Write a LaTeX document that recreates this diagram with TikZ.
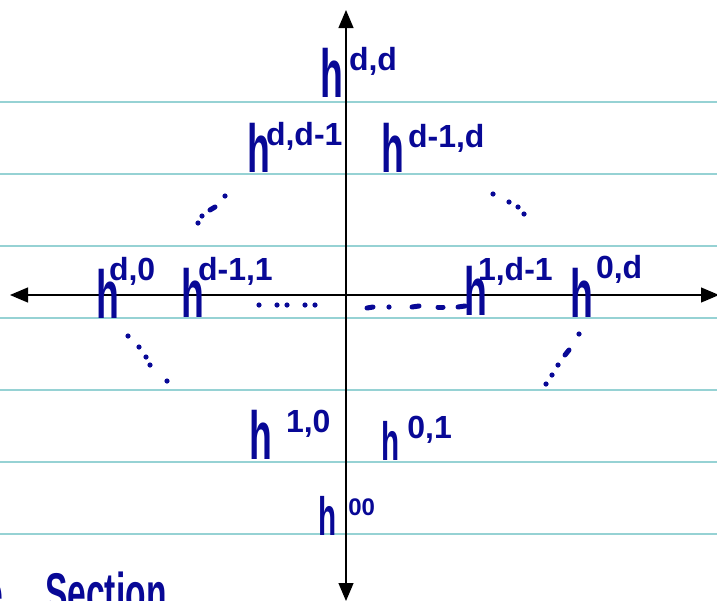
\documentclass[tikz,border=0pt]{standalone}
\usepackage{fontspec}
\setmainfont{Liberation Sans}
\usepackage{tikz}
\usetikzlibrary{arrows.meta}
\definecolor{penblue}{RGB}{8,8,150}
\definecolor{ruleteal}{RGB}{150,210,212}
\tikzset{
  ruling/.style ={line width=1.4pt, ruleteal},
  axis/.style   ={line width=1.2pt, black, {Triangle[length=18pt,width=15pt]}-{Triangle[length=18pt,width=15pt]}},
  hodge/.style  ={anchor=base west, inner sep=0pt, text=penblue, font=\fontsize{68}{68}\selectfont\bfseries},
  hodgesm/.style={hodge, font=\fontsize{54}{54}\selectfont\bfseries},
  scrawl/.style ={anchor=base west, inner sep=0pt, text=penblue, font=\fontsize{56}{56}\selectfont\bfseries},
  inkdot/.style ={fill=penblue},
  inkdash/.style={draw=penblue, line width=5pt, line cap=round},
}
% h with a raised pair of indices: gap, lift, indices
\newcommand{\hterm}[3]{\scalebox{0.55}[1]{h}\hspace*{#1pt}\raisebox{#2pt}{\fontsize{32}{32}\selectfont\bfseries #3}}

\begin{document}
\begin{tikzpicture}[x=1pt, y=-1pt]
  \useasboundingbox (0,0) rectangle (717,600);
  \clip (0,0) rectangle (717,600);
  % notebook rulings
  \foreach \yy in {102,174,246,318,390,462,534}
    \draw[ruling] (0,\yy) -- (717,\yy);
  % axes
  \coordinate (north) at (346,10);
  \coordinate (south) at (346,601);
  \coordinate (west)  at (10,295);
  \coordinate (east)  at (719,295);
  \draw[axis] (south) -- (north);
  \draw[axis] (west) -- (east);
  % the diamond
  \node[hodge]   (hdd)  at (320,97)  {\hterm{6}{27}{d,d}};
  \node[hodge]   (hdd1) at (247,172) {\hterm{-4}{27}{d,d-1}};
  \node[hodge]   (hd1d) at (381,172) {\hterm{4}{25}{d-1,d}};
  \node[hodge]   (hd0)  at (96,318)  {\hterm{-10}{38}{d,0}};
  \node[hodge]   (hd11) at (181,317) {\hterm{-6}{37}{d-1,1}};
  \node[hodge]   (h1d1) at (464,315) {\hterm{-9}{35}{1,d-1}};
  \node[hodge]   (h0d)  at (570,317) {\hterm{3}{39}{0,d}};
  \node[hodge]   (h10)  at (249,459) {\hterm{14}{27}{1,0}};
  \node[hodgesm] (h01)  at (381,460) {\hterm{8}{22}{0,1}};
  \node[hodgesm] (h00)  at (318,535) {\hterm{12}{20}{\fontsize{24}{24}\selectfont 00}};
  % dots between the entries
  \foreach \px/\py in {225/196,202/216,198/223, 493/194,509/202,518/207,524/214,
                       128/336,139/347,146/357,150/365,167/381,
                       579/334,558/365,552/375,546/384,
                       259/305,277/305,287/305,305/305,315/305,389/307}
    \fill[inkdot] (\px,\py) circle (2.6pt);
  \draw[inkdash] (210,210) -- (215,207);
  \draw[inkdash] (565,355) -- (569,350);
  \draw[inkdash] (367,308) -- (373,307);
  \draw[inkdash] (412,307) -- (419,306);
  \draw[inkdash] (438,307) -- (443,307);
  \draw[inkdash] (458,307) -- (465,306);
  % heading cut off at the page edge
  \node[scrawl] (tail) at (-16,612) {\scalebox{0.6}[1]{e}};
  \node[scrawl] (sect) at (45,612)  {\scalebox{0.6}[1]{Section}};
\end{tikzpicture}
\end{document}
